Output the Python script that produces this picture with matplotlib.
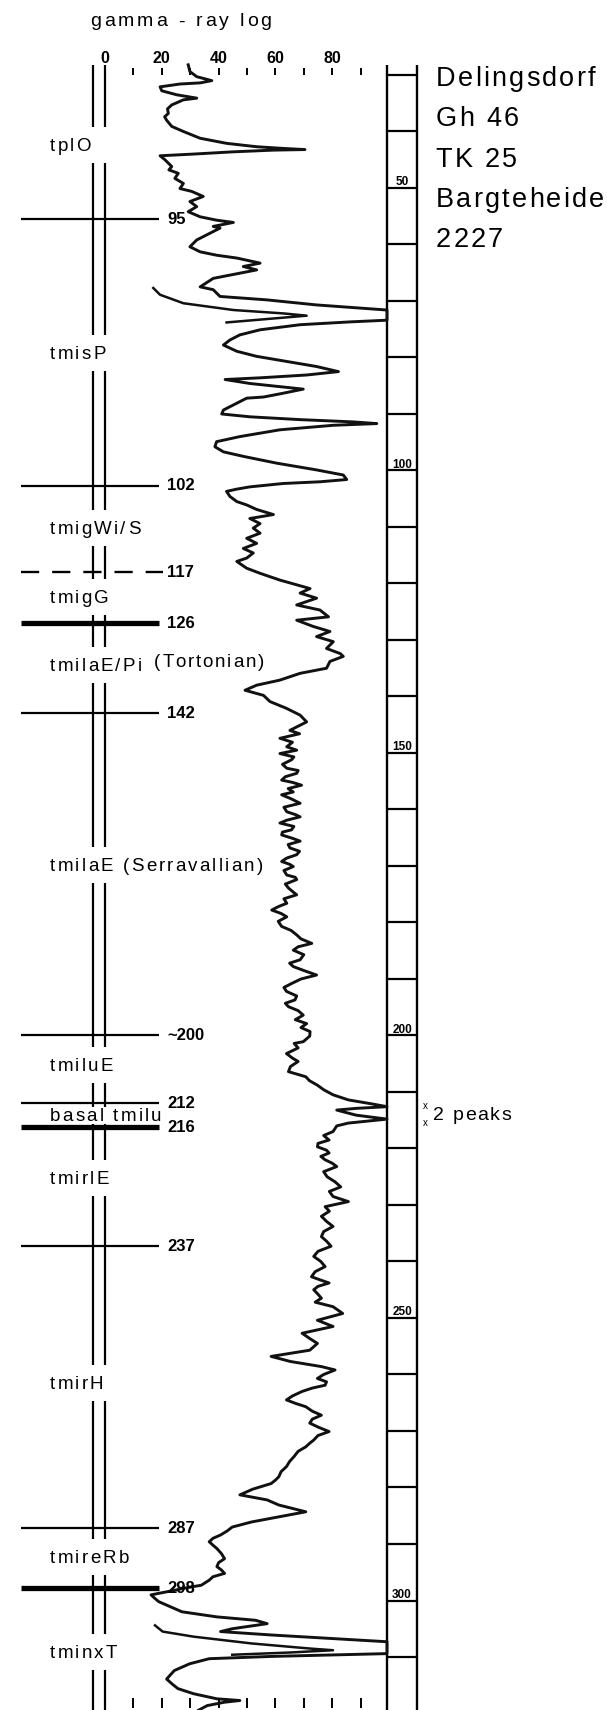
import matplotlib
matplotlib.use('Agg')
import matplotlib.pyplot as plt
from matplotlib.transforms import offset_copy
from matplotlib.font_manager import FontProperties, findfont
from matplotlib.ft2font import FT2Font

FONT = 'Liberation Sans'

# gamma-ray log, main trace: depth (m) and reading (0-100 scale)
log_depth = [28.2, 29.4, 30.3, 31.0, 31.4, 31.6, 32.1, 32.8, 33.5, 34.1, 34.4, 35.3, 36.0, 36.8, 37.4,
             38.0, 39.1, 40.0, 41.2, 42.1, 42.7, 43.0, 43.2, 43.3, 43.6, 44.0, 44.3, 45.0, 46.2, 46.8,
             47.4, 48.3, 49.2, 50.1, 50.6, 51.5, 52.4, 53.3, 54.2, 55.1, 55.7, 56.1, 56.8, 57.1, 58.0,
             59.2, 60.4, 61.3, 61.9, 62.4, 63.3, 63.9, 64.5, 65.3, 66.0, 67.5, 68.0, 69.2, 69.8, 70.7,
             71.6, 73.4, 73.7, 74.2, 74.5, 75.1, 76.0, 76.9, 77.8, 78.9, 79.8, 80.7, 81.6, 82.5, 83.1,
             83.6, 83.9, 84.6, 85.3, 85.6, 86.4, 87.0, 87.2, 88.4, 89.3, 90.0, 90.5, 91.0, 91.4, 91.7,
             92.0, 92.8, 94.0, 94.9, 95.8, 96.7, 97.5, 98.7, 99.9, 100.8, 101.6, 102.0, 102.3, 102.9, 103.3,
             103.7, 104.6, 105.5, 106.1, 106.9, 107.8, 108.5, 109.4, 110.2, 111.1, 112.0, 112.9, 113.8, 114.6, 115.5,
             116.1, 117.3, 118.2, 119.4, 120.4, 120.9, 121.7, 122.6, 123.8, 124.7, 125.9, 126.5, 127.6, 128.5, 129.4,
             130.3, 131.5, 132.4, 132.9, 133.8, 135.0, 135.9, 137.1, 138.0, 138.9, 139.8, 140.9, 142.1, 143.3, 144.5,
             146.0, 146.6, 147.4, 148.1, 148.9, 149.5, 150.1, 150.7, 151.2, 152.0, 152.7, 153.1, 153.6, 154.2, 154.8,
             155.2, 155.7, 156.3, 156.9, 157.4, 158.1, 158.9, 159.6, 160.4, 160.9, 161.3, 161.9, 162.4, 163.0, 163.6,
             164.0, 164.5, 165.1, 165.6, 166.2, 166.8, 167.4, 168.0, 168.6, 169.2, 169.7, 170.1, 170.8, 171.6, 172.0,
             172.4, 173.2, 173.9, 174.5, 175.1, 175.8, 176.6, 177.2, 177.8, 178.4, 179.0, 179.8, 180.7, 181.4, 182.2,
             182.9, 183.7, 184.3, 184.9, 185.7, 186.6, 187.2, 187.8, 188.5, 189.3, 190.0, 190.8, 191.5, 192.2, 193.0,
             193.7, 194.3, 194.9, 195.6, 196.4, 197.2, 197.9, 198.6, 199.3, 200.1, 201.1, 201.4, 202.2, 203.2, 204.0,
             204.6, 205.5, 206.4, 207.3, 208.0, 208.8, 209.6, 210.5, 211.4, 212.1, 212.6, 212.9, 213.2, 214.1, 214.8,
             215.5, 216.0, 217.0, 217.7, 218.5, 219.1, 219.7, 220.3, 220.8, 221.4, 222.0, 222.6, 223.2, 224.1, 225.0,
             225.9, 226.8, 227.6, 228.5, 229.4, 230.3, 231.1, 232.0, 232.9, 233.8, 234.7, 235.6, 236.4, 237.3, 238.2,
             239.1, 240.0, 240.9, 241.8, 242.7, 243.3, 243.8, 244.4, 245.0, 245.8, 246.5, 247.2, 248.0, 249.2, 250.4,
             251.5, 252.7, 253.6, 254.5, 255.7, 256.8, 257.7, 258.6, 259.2, 260.0, 260.7, 261.3, 261.9, 262.4, 263.0,
             263.8, 264.5, 265.1, 265.7, 266.5, 267.2, 267.9, 268.6, 269.3, 270.1, 270.8, 271.6, 272.2, 272.8, 273.6,
             274.5, 275.4, 276.3, 277.2, 278.1, 278.7, 279.3, 280.3, 281.3, 282.2, 283.1, 284.3, 285.2, 286.1, 287.0,
             287.7, 288.4, 289.0, 289.6, 290.2, 290.8, 291.7, 292.6, 293.3, 294.0, 294.6, 295.2, 295.8, 296.4, 297.3,
             297.8, 298.2, 299.0, 299.6, 300.2, 301.1, 302.0, 302.9, 303.5, 304.1, 305.0, 305.5, 306.1, 306.9, 307.3,
             309.4, 309.9, 310.3, 311.2, 312.4, 313.9, 314.8, 315.6, 316.5, 317.4, 317.7, 318.0, 318.6, 319.4]
log_gamma = [29.3, 29.9, 32.3, 37.6, 33.5, 26.4, 19.4, 20.0, 25.2, 32.3, 27.6, 23.5, 22.0, 22.3, 21.0,
             21.7, 23.5, 27.6, 33.5, 42.8, 53.4, 62.8, 70.4, 59.3, 45.2, 31.1, 19.4, 21.1, 23.5, 22.5,
             25.8, 24.6, 27.6, 26.4, 30.5, 34.6, 29.9, 32.3, 29.3, 33.5, 39.3, 45.2, 38.1, 40.5, 37.0,
             32.3, 29.9, 33.5, 39.3, 46.4, 54.6, 48.7, 53.4, 45.2, 38.1, 33.5, 38.1, 40.5, 56.9, 74.5,
             99.3, 99.3, 86.3, 68.7, 64.0, 54.6, 47.5, 44.0, 41.7, 46.4, 53.4, 64.0, 74.5, 82.2, 71.0,
             54.6, 42.3, 51.0, 64.0, 69.8, 62.0, 55.8, 49.9, 45.2, 41.7, 41.1, 51.0, 68.7, 87.4, 95.7,
             80.4, 61.6, 47.5, 39.3, 38.7, 41.7, 48.7, 60.4, 74.5, 83.9, 85.1, 75.7, 62.8, 51.0, 46.4,
             42.8, 44.0, 46.4, 49.9, 53.4, 59.3, 51.0, 54.6, 52.2, 54.6, 49.9, 53.4, 48.7, 52.2, 49.9,
             46.4, 49.9, 54.6, 61.6, 68.7, 72.2, 68.7, 74.5, 67.5, 75.7, 78.7, 67.5, 73.3, 79.2, 74.5,
             80.4, 78.0, 82.8, 83.9, 79.2, 78.0, 68.7, 61.6, 53.4, 49.3, 55.8, 58.1, 63.9, 68.7, 71.0,
             65.1, 68.5, 61.6, 66.0, 64.0, 67.5, 61.6, 66.5, 65.7, 62.5, 64.0, 68.0, 67.5, 63.5, 62.2,
             66.0, 69.2, 64.5, 66.3, 62.2, 65.5, 68.7, 63.0, 64.0, 67.0, 68.7, 64.0, 61.6, 66.5, 65.7,
             62.5, 62.2, 66.0, 68.7, 64.5, 65.1, 68.5, 67.5, 64.0, 62.2, 65.0, 66.3, 63.0, 64.0, 67.0,
             67.5, 63.5, 64.6, 66.0, 67.5, 63.0, 64.0, 61.0, 58.7, 62.0, 64.0, 61.0, 62.2, 65.5, 67.5,
             69.0, 72.8, 68.0, 66.3, 70.0, 68.7, 65.0, 66.3, 70.0, 74.5, 69.0, 65.7, 63.0, 63.9, 67.5,
             66.9, 63.5, 64.6, 68.0, 69.8, 67.0, 71.0, 69.0, 72.2, 72.1, 69.8, 66.6, 68.0, 63.9, 66.0,
             68.0, 65.3, 64.6, 70.7, 72.0, 74.8, 77.0, 80.3, 85.7, 93.9, 99.3, 88.4, 81.6, 88.4, 99.3,
             85.7, 81.6, 80.3, 77.0, 78.9, 75.0, 74.8, 78.0, 78.9, 76.0, 77.5, 80.0, 81.6, 77.0, 78.2,
             81.0, 83.0, 79.0, 80.3, 85.7, 77.5, 79.0, 76.2, 78.0, 80.3, 77.0, 76.2, 78.0, 79.6, 75.0,
             73.5, 76.0, 77.5, 74.0, 72.7, 76.0, 78.9, 75.0, 73.5, 75.0, 76.2, 74.0, 80.3, 83.7, 74.8,
             80.3, 69.4, 72.0, 74.8, 72.1, 58.5, 65.3, 76.2, 81.0, 77.0, 74.8, 78.0, 77.5, 73.0, 69.4,
             66.0, 63.9, 67.0, 70.7, 73.0, 76.2, 73.0, 72.1, 75.0, 78.9, 75.0, 73.5, 72.0, 70.7, 68.0,
             66.6, 65.0, 63.9, 62.0, 61.2, 60.0, 58.5, 52.0, 47.5, 57.1, 61.2, 70.7, 61.2, 51.6, 44.8,
             43.0, 40.7, 38.0, 36.7, 38.0, 39.4, 41.0, 42.1, 40.0, 39.4, 41.0, 42.1, 38.0, 36.7, 33.9,
             28.0, 24.4, 16.2, 17.5, 18.9, 23.0, 27.1, 39.4, 53.0, 57.1, 44.8, 40.7, 58.5, 85.7, 99.3,
             99.3, 58.5, 36.7, 29.8, 24.4, 21.7, 23.7, 25.7, 31.2, 39.4, 47.5, 42.1, 36.0, 33.0]

# the two overlapping off-scale loops
loop1_depth = [67.7, 68.9, 70.4, 71.6, 72.2, 72.6, 72.9, 73.8]
loop1_gamma = [17.0, 19.4, 27.6, 45.2, 62.8, 71.0, 64.0, 42.8]
loop2_depth = [304.4, 305.5, 306.4, 307.6, 308.5, 308.8, 309.2, 309.6]
loop2_gamma = [17.6, 20.3, 31.2, 51.6, 72.1, 80.3, 65.3, 44.8]

# formation tops
top_depth = [55.5, 102.7, 118, 127, 143, 200, 212, 216.2, 237.3, 287.2, 297.8]
top_label = ['95', '102', '117', '126', '142', '~200', '212', '216', '237', '287', '298']
top_style = ['thin', 'thin', 'dash', 'thick', 'thin', 'thin', 'thin', 'thick', 'thin', 'thin', 'thick']

# unit names
unit_name = ['tplO', 'tmisP', 'tmigWi/S', 'tmigG', 'tmilaE/Pi', 'tmilaE (Serravallian)', 'tmiluE',
             'basal tmilu', 'tmirlE', 'tmirH', 'tmireRb', 'tminxT']
unit_depth = [42.4, 79.2, 110.2, 122.4, 134.4, 169.8, 205.2, 214.1, 225.2, 261.5, 292.3, 309.1]

gamma_ticks = [10, 20, 30, 40, 50, 60, 70, 80, 90]
gamma_labels = [0, 20, 40, 60, 80]
ruler_lines = list(range(30, 320, 10))
ruler_labels = [50, 100, 150, 200, 250, 300]
info = ['Delingsdorf', 'Gh 46', 'TK 25', 'Bargteheide', '2227']

fig = plt.figure(figsize=(6.07, 17.10), dpi=100)
ax = fig.add_axes([0, 0, 1, 1])
ax.set_xlim(-36.97, 176.76)
ax.set_ylim(319.38, 16.73)
ax.axis('off')


def spaced(x, y, s, size, track, weight='normal'):
    # letter-spaced text, baseline at (x, y) in data coords
    prop = FontProperties(family=FONT, weight=weight, size=size)
    font = FT2Font(findfont(prop))
    font.set_size(size, fig.dpi)
    dx = 0.0
    for ch in s:
        if ch != ' ':
            ax.text(x, y, ch, fontproperties=prop, ha='left', va='baseline',
                    transform=offset_copy(ax.transData, x=dx, y=0, units='dots'))
        dx += font.load_char(ord(ch)).linearHoriAdvance / 65536 + track


# title and gamma scale
spaced(-5.3, 21.4, 'gamma - ray log', 14, 2.9)
for v in gamma_labels:
    ax.text(v, 27.8, str(v), family=FONT, fontweight='bold', fontsize=11.5, ha='center', va='baseline')
ax.vlines(gamma_ticks, 28.8, 30.0, color='k', lw=1.4)
ax.vlines(gamma_ticks, 317.3, 319.0, color='k', lw=1.4)

# double stratigraphic lines with gaps for the unit names
gaps = []
for name, d in zip(unit_name, unit_depth):
    h = 1.5 if name == 'basal tmilu' else 3.2
    gaps.append((d - h, d + h))
start = 28.2
segs = []
for a, b in gaps:
    segs.append((start, a))
    start = b
segs.append((start, 319.4))
for a, b in segs:
    ax.vlines([-4.3, 0.0], a, b, color='k', lw=1.6)

# formation tops
for d, lab, st in zip(top_depth, top_label, top_style):
    if st == 'dash':
        ax.plot([-29.6, 20.3], [d, d], color='k', lw=1.7, dashes=(7.7, 5.5))
    else:
        ax.plot([-29.6, 19.0], [d, d], color='k', lw=3.8 if st == 'thick' else 1.6,
                solid_capstyle='butt')
    ax.text(21.8, d, lab, family=FONT, fontweight='bold', fontsize=12, ha='left', va='center')

# unit names
for name, d in zip(unit_name, unit_depth):
    spaced(-19.4, d + 1.1, name, 13.5, 2.2)
    if name == 'tmilaE/Pi':
        spaced(17.3, d + 0.3, '(Tortonian)', 13.5, 1.8)

# depth ruler
ax.vlines([99.4, 109.9], 28.2, 319.4, color='k', lw=1.7)
ax.hlines(ruler_lines, 99.4, 109.9, color='k', lw=1.6)
for v in ruler_labels:
    ax.text(104.6, v - 0.5, str(v), family=FONT, fontweight='bold', fontsize=8.5,
            ha='center', va='baseline')

# gamma-ray curve
ax.plot(log_gamma, log_depth, color='#111111', lw=2.1, solid_joinstyle='round')
ax.plot(loop1_gamma, loop1_depth, color='#111111', lw=1.8, solid_joinstyle='round')
ax.plot(loop2_gamma, loop2_depth, color='#111111', lw=1.8, solid_joinstyle='round')

# well info
for s, d in zip(info, [32.0, 39.1, 46.2, 53.3, 60.5]):
    spaced(116.5, d, s, 19.5, 2.2)

# two peaks note
ax.text(112.7, 212.5, 'x', family=FONT, fontsize=7, ha='center', va='center')
ax.text(112.7, 215.5, 'x', family=FONT, fontsize=7, ha='center', va='center')
spaced(115.5, 215.0, '2 peaks', 14, 1.6)

fig.savefig('out.png', dpi=100, facecolor='white')
